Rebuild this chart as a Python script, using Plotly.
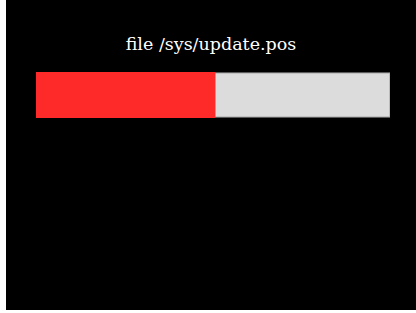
import plotly.graph_objects as go

title_text = "file /sys/update.pos"
category = ["update.pos"]
total_value = [100]
done_value = [50.7]

fig = go.Figure()
fig.add_trace(go.Bar(
    y=category, x=total_value, orientation="h", width=0.96,
    marker=dict(color="#dcdcdc", line=dict(color="#9a9a9a", width=1)),
    hoverinfo="skip", showlegend=False,
))
fig.add_trace(go.Bar(
    y=category, x=done_value, orientation="h", width=1.0,
    marker=dict(color="#fe2a2a", line=dict(width=0)),
    hoverinfo="skip", showlegend=False,
))
fig.update_layout(
    width=410, height=310,
    paper_bgcolor="black", plot_bgcolor="black",
    barmode="overlay",
    margin=dict(l=30, r=26, t=72, b=192, pad=0),
    title=dict(text=title_text, x=0.5, xanchor="center", y=1 - 44 / 310, yanchor="middle",
               font=dict(family="DejaVu Serif", size=17.5, color="white")),
    xaxis=dict(range=[0, 100], visible=False, fixedrange=True),
    yaxis=dict(range=[-0.5, 0.5], visible=False, fixedrange=True),
)
fig.write_html(
    "out.html",
    config={"displayModeBar": False},
    post_script="document.body.style.margin='0';document.body.style.background='white';"
                "var d=document.getElementById('{plot_id}');d.style.marginLeft='6px';",
)
